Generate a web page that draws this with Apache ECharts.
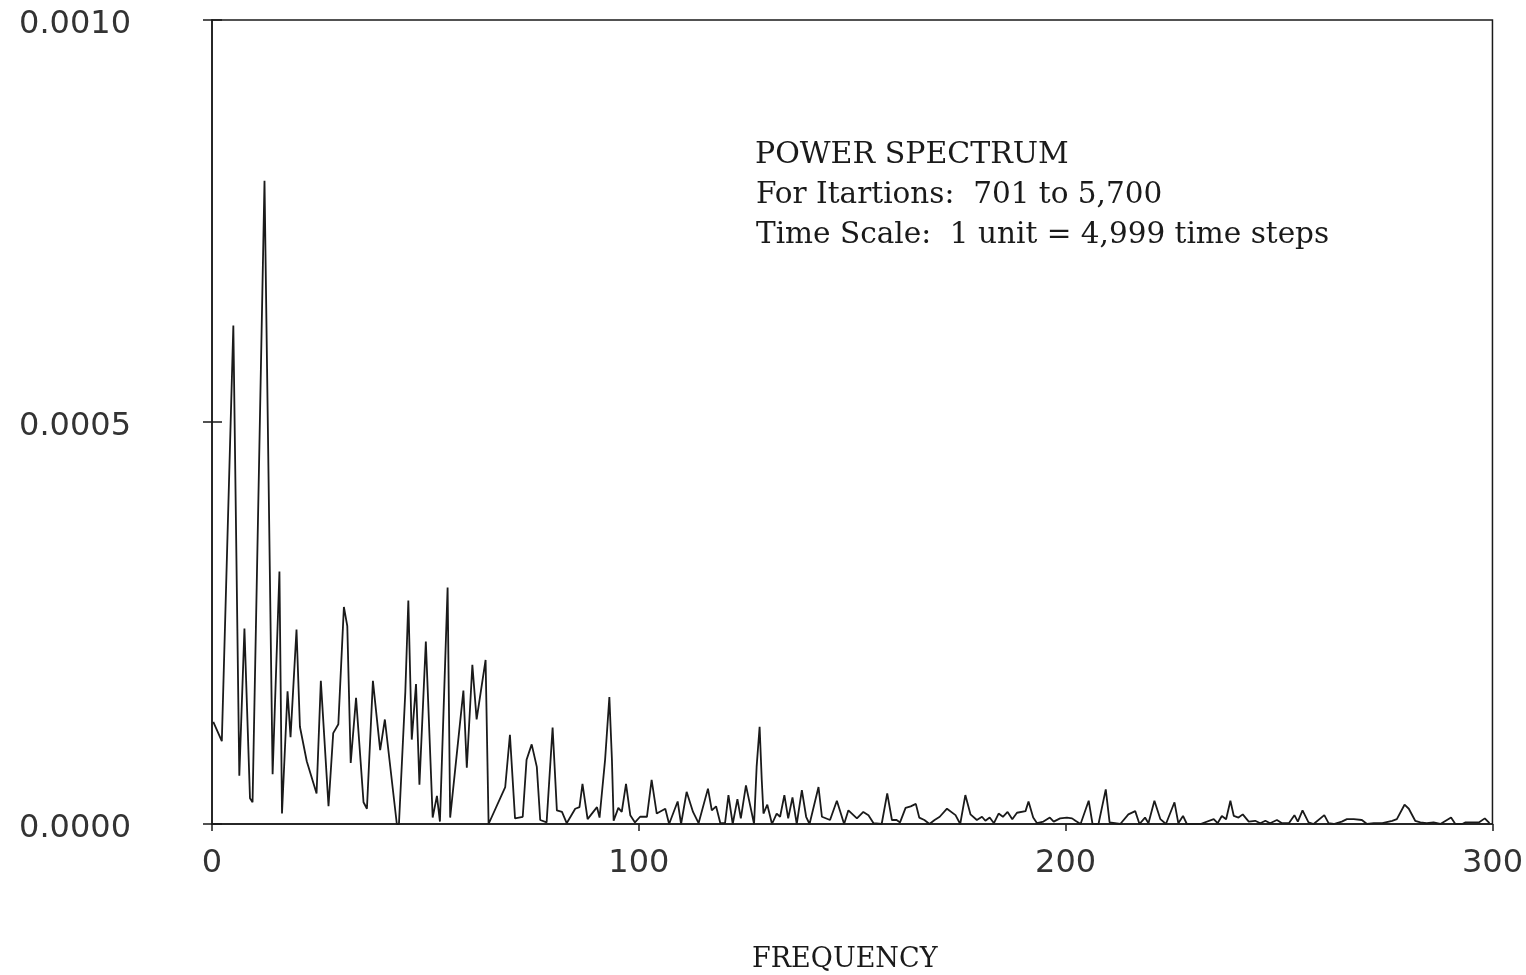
<!DOCTYPE html>
<html>
<head>
<meta charset="utf-8">
<title>Power Spectrum</title>
<script src="https://cdn.jsdelivr.net/npm/echarts@6/dist/echarts.min.js"></script>
<style>
  html, body { margin: 0; padding: 0; background: #ffffff; }
  #chart { width: 1526px; height: 975px; }
</style>
</head>
<body>
<div id="chart"></div>
<script>
// frequency positions
const freq = [
  0.3, 2.3, 5.0, 6.4, 7.6, 8.9, 9.5, 12.3, 14.2, 15.8, 16.4, 17.7, 18.4, 19.8, 20.6, 22.2,
  24.5, 25.5, 27.3, 28.4, 29.6, 30.9, 31.7, 32.5, 33.75, 35.5, 36.3, 37.7, 39.4, 40.5, 43.3, 43.8,
  45.3, 46.0, 46.8, 47.8, 48.6, 50.1, 51.7, 52.7, 53.4, 55.2, 55.8, 58.9, 59.7, 61.0, 62.0, 64.1,
  64.8, 68.7, 69.8, 71.0, 72.8, 73.7, 74.9, 76.1, 76.9, 78.4, 79.8, 80.8, 82.0, 83.1, 85.1, 86.1,
  86.8, 88.0, 90.2, 90.8, 92.1, 93.1, 93.7, 94.1, 95.2, 96.0, 97.0, 98.0, 99.1, 100.3, 101.9, 103.0,
  104.2, 106.2, 107.1, 109.1, 109.9, 111.2, 112.7, 114.0, 116.2, 117.1, 118.1, 119.1, 120.2, 121.0, 122.0, 123.1,
  123.9, 125.1, 127.0, 127.6, 128.3, 128.8, 129.2, 130.1, 131.2, 132.3, 133.1, 134.1, 135.0, 136.0, 137.0, 138.2,
  139.2, 140.0, 142.1, 142.9, 144.8, 146.4, 148.1, 149.1, 151.1, 152.6, 153.8, 155.0, 156.9, 158.2, 159.3, 160.4,
  161.2, 162.5, 163.7, 164.9, 165.7, 166.9, 168.1, 169.3, 170.5, 172.2, 174.2, 175.3, 176.5, 177.7, 179.2, 180.4,
  181.2, 182.2, 183.2, 184.3, 185.3, 186.4, 187.5, 188.6, 190.6, 191.3, 192.4, 193.3, 194.8, 196.3, 197.2, 198.7,
  200.3, 201.5, 202.3, 203.5, 205.4, 206.3, 207.7, 209.4, 210.3, 212.8, 214.7, 216.3, 217.3, 218.6, 219.4, 220.8,
  222.2, 223.5, 225.5, 226.4, 227.5, 228.4, 231.6, 234.7, 235.6, 236.6, 237.6, 238.6, 239.4, 240.5, 241.5, 242.9,
  244.4, 245.6, 246.8, 247.9, 249.5, 250.7, 252.3, 253.6, 254.4, 255.5, 256.9, 258.1, 260.6, 261.6, 262.8, 264.7,
  265.9, 267.5, 269.4, 270.6, 272.2, 274.2, 276.5, 277.6, 279.4, 280.4, 281.9, 283.1, 284.6, 286.2, 287.8, 290.3,
  291.3, 292.9, 293.7, 295.2, 296.8, 298.2, 299.3
];

// power, in units of 1e-4
const power = [
  1.27, 1.03, 6.2, 0.6, 2.43, 0.32, 0.27, 8.0, 0.62, 3.14, 0.13, 1.65, 1.08, 2.42, 1.21, 0.78,
  0.38, 1.78, 0.22, 1.13, 1.24, 2.7, 2.46, 0.76, 1.57, 0.27, 0.19, 1.78, 0.92, 1.3, 0, 0,
  1.65, 2.78, 1.05, 1.74, 0.49, 2.27, 0.08, 0.35, 0.03, 2.94, 0.08, 1.66, 0.7, 1.98, 1.3, 2.04,
  0, 0.46, 1.11, 0.07, 0.09, 0.8, 0.99, 0.71, 0.05, 0.02, 1.2, 0.17, 0.15, 0.01, 0.19, 0.21,
  0.5, 0.06, 0.21, 0.08, 0.8, 1.58, 0.8, 0.04, 0.2, 0.15, 0.5, 0.11, 0.02, 0.09, 0.09, 0.55,
  0.13, 0.19, 0, 0.28, 0, 0.4, 0.15, 0.01, 0.44, 0.17, 0.22, 0.01, 0.01, 0.36, 0, 0.31,
  0.07, 0.48, 0, 0.71, 1.21, 0.55, 0.13, 0.24, 0, 0.13, 0.09, 0.36, 0.07, 0.33, 0, 0.42,
  0.09, 0, 0.46, 0.09, 0.05, 0.29, 0, 0.17, 0.07, 0.15, 0.11, 0.01, 0, 0.38, 0.05, 0.05,
  0.02, 0.2, 0.22, 0.25, 0.08, 0.05, 0, 0.05, 0.09, 0.19, 0.11, 0, 0.36, 0.12, 0.05, 0.09,
  0.04, 0.08, 0.01, 0.13, 0.09, 0.15, 0.06, 0.14, 0.16, 0.28, 0.08, 0.01, 0.03, 0.08, 0.03, 0.07,
  0.08, 0.07, 0.04, 0, 0.29, 0, 0, 0.43, 0.02, 0, 0.12, 0.16, 0, 0.08, 0.01, 0.29,
  0.06, 0, 0.27, 0.01, 0.1, 0, 0, 0.06, 0.01, 0.1, 0.06, 0.29, 0.1, 0.08, 0.12, 0.03,
  0.04, 0.01, 0.04, 0.01, 0.05, 0.01, 0.01, 0.11, 0.03, 0.17, 0.02, 0, 0.11, 0.01, 0, 0.03,
  0.06, 0.06, 0.05, 0, 0.01, 0.01, 0.04, 0.06, 0.24, 0.19, 0.04, 0.02, 0.01, 0.02, 0, 0.08,
  0, 0, 0.02, 0.02, 0.02, 0.07, 0.01
];

const xTicks = [0, 100, 200, 300];
const yTicks = [0, 0.0005, 0.001];

const noteLines = [
  'POWER SPECTRUM',
  'For Itartions:  701 to 5,700',
  'Time Scale:  1 unit = 4,999 time steps'
];

const ink = '#1a1a1a';
const labelFont = { color: '#333333', fontFamily: 'DejaVu Sans', fontSize: 32 };

const chart = echarts.init(document.getElementById('chart'));

const option = {
  backgroundColor: '#ffffff',
  animation: false,
  grid: {
    left: 212,
    top: 20,
    right: 33,
    bottom: 151,
    show: true,
    borderColor: ink,
    borderWidth: 1.5
  },
  xAxis: {
    type: 'value',
    min: xTicks[0],
    max: xTicks[xTicks.length - 1],
    interval: 100,
    axisLine: { lineStyle: { color: ink, width: 1.5 } },
    axisTick: { length: 7, lineStyle: { color: ink, width: 1.5 } },
    axisLabel: Object.assign({ margin: 24 }, labelFont),
    splitLine: { show: false }
  },
  yAxis: [
    {
      type: 'value',
      min: yTicks[0],
      max: yTicks[yTicks.length - 1],
      interval: 0.0005,
      axisLine: { show: true, lineStyle: { color: ink, width: 1.5 } },
      axisTick: { show: true, length: 9, lineStyle: { color: ink, width: 1.5 } },
      axisLabel: {
        margin: 81,
        formatter: v => '{t|' + v.toFixed(4) + '}',
        rich: {
          // push the numbers a few px lower, like the plotter did
          t: Object.assign({ padding: [10, 0, 0, 0] }, labelFont)
        }
      },
      splitLine: { show: false }
    },
    {
      // second axis only to draw the inward half of the ticks
      type: 'value',
      position: 'left',
      min: yTicks[0],
      max: yTicks[yTicks.length - 1],
      interval: 0.0005,
      axisLine: { show: false },
      axisTick: { show: true, inside: true, length: 10, lineStyle: { color: ink, width: 1.5 } },
      axisLabel: { show: false },
      splitLine: { show: false }
    }
  ],
  series: [
    {
      type: 'line',
      data: freq.map((f, i) => [f, power[i] * 1e-4]),
      showSymbol: false,
      smooth: false,
      lineStyle: { color: ink, width: 1.8 },
      z: 3
    }
  ],
  graphic: [
    {
      type: 'text',
      left: 755,
      top: 140,
      style: { text: noteLines[0], fill: ink, font: '30px "DejaVu Serif"' }
    },
    {
      type: 'text',
      left: 756,
      top: 180,
      style: { text: noteLines[1], fill: ink, font: '29.5px "DejaVu Serif"' }
    },
    {
      type: 'text',
      left: 756,
      top: 220,
      style: { text: noteLines[2], fill: ink, font: '29.5px "DejaVu Serif"' }
    },
    {
      type: 'text',
      left: 752,
      top: 946,
      style: { text: 'FREQUENCY', fill: ink, font: '27px "DejaVu Serif"' }
    }
  ]
};

chart.setOption(option);

window.addEventListener('resize', () => {
  chart.resize();
});
</script>
</body>
</html>
